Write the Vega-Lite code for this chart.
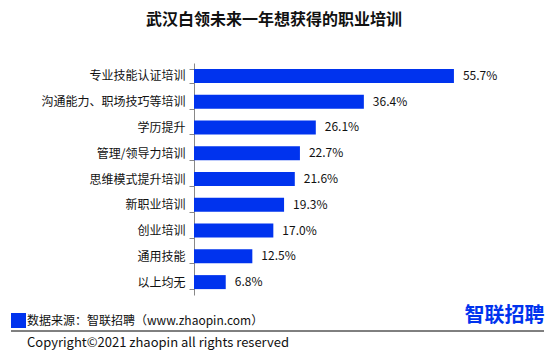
{
  "$schema": "https://vega.github.io/schema/vega-lite/v6.json",
  "width": 280,
  "height": 232,
  "autosize": {"type": "none"},
  "padding": {"left": 194, "top": 63, "right": 80, "bottom": 62},
  "background": "white",
  "title": {
    "text": "武汉白领未来一年想获得的职业培训",
    "anchor": "middle",
    "frame": "group",
    "dx": -60,
    "offset": 29,
    "fontSize": 16,
    "fontWeight": "bold",
    "font": "Noto Sans CJK SC",
    "color": "#111111"
  },
  "config": {
    "view": {"stroke": null},
    "font": "Noto Sans CJK SC"
  },
  "layer": [
    {
      "data": {
        "values": [
          {"category": "专业技能认证培训", "value": 0.557},
          {"category": "沟通能力、职场技巧等培训", "value": 0.364},
          {"category": "学历提升", "value": 0.261},
          {"category": "管理/领导力培训", "value": 0.227},
          {"category": "思维模式提升培训", "value": 0.216},
          {"category": "新职业培训", "value": 0.193},
          {"category": "创业培训", "value": 0.170},
          {"category": "通用技能", "value": 0.125},
          {"category": "以上均无", "value": 0.068}
        ]
      },
      "encoding": {
        "y": {
          "field": "category",
          "type": "nominal",
          "sort": null,
          "scale": {"paddingInner": 0.457, "paddingOuter": 0.2285},
          "axis": {
            "title": null,
            "domainColor": "#888888",
            "tickColor": "#888888",
            "tickSize": 5,
            "tickBand": "extent",
            "labelFontSize": 12,
            "labelColor": "#111111",
            "labelPadding": 4,
            "labelFont": "Noto Sans CJK SC"
          }
        },
        "x": {
          "field": "value",
          "type": "quantitative",
          "scale": {"domain": [0, 0.6]},
          "axis": null
        }
      },
      "layer": [
        {
          "mark": {"type": "bar"},
          "encoding": {
            "color": {
              "datum": "数据来源：智联招聘（www.zhaopin.com）",
              "type": "nominal",
              "scale": {"range": ["#0033ee"]},
              "legend": {
                "orient": "none",
                "legendX": -183,
                "legendY": 250,
                "title": null,
                "symbolType": "square",
                "symbolSize": 225,
                "symbolStrokeWidth": 0,
                "labelFontSize": 12,
                "labelColor": "#111111",
                "labelFont": "Noto Sans CJK SC",
                "labelLimit": 400,
                "padding": 0,
                "labelOffset": 1,
                "symbolOffset": 0
              }
            }
          }
        },
        {
          "mark": {
            "type": "text",
            "align": "left",
            "baseline": "middle",
            "dx": 9,
            "fontSize": 12,
            "color": "#111111"
          },
          "encoding": {
            "text": {"field": "value", "type": "quantitative", "format": ".1%"}
          }
        }
      ]
    },
    {
      "data": {"values": [{}]},
      "mark": {"type": "rule", "color": "#000000", "strokeWidth": 1},
      "encoding": {
        "x": {"value": -183},
        "x2": {"value": 350},
        "y": {"value": 268}
      }
    },
    {
      "data": {"values": [{}]},
      "mark": {
        "type": "text",
        "text": "Copyright©2021 zhaopin all rights reserved",
        "align": "left",
        "baseline": "middle",
        "fontSize": 13,
        "color": "#111111"
      },
      "encoding": {
        "x": {"value": -167},
        "y": {"value": 280}
      }
    },
    {
      "data": {"values": [{}]},
      "mark": {
        "type": "text",
        "text": "智联招聘",
        "align": "center",
        "baseline": "middle",
        "fontSize": 20,
        "fontWeight": "bold",
        "color": "#0033ee"
      },
      "encoding": {
        "x": {"value": 310.5},
        "y": {"value": 252.5}
      }
    }
  ]
}
